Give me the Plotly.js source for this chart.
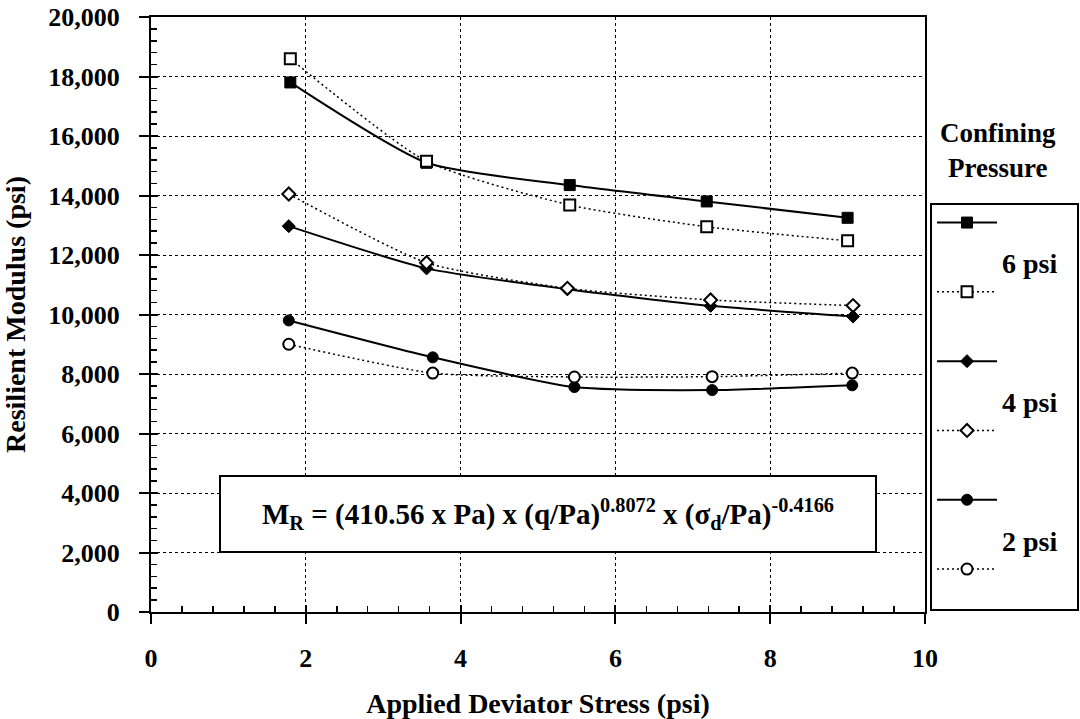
<!DOCTYPE html>
<html>
<head>
<meta charset="utf-8">
<script src="https://cdn.plot.ly/plotly-3.0.1.min.js"></script>
<style>html,body{margin:0;padding:0;background:#fff;}#chart{width:1080px;height:719px;}</style>
</head>
<body>
<div id="chart"></div>
<script>
// Applied deviator stress (psi) for each confining pressure
const stress6 = [1.80, 3.56, 5.41, 7.18, 9.00];
const stress4 = [1.78, 3.56, 5.38, 7.23, 9.07];
const stress2 = [1.78, 3.64, 5.47, 7.25, 9.06];
// Resilient modulus (psi): filled = measured (solid), open = model (dotted)
const mr6Filled = [17800, 15100, 14350, 13800, 13250];
const mr6Open   = [18600, 15150, 13680, 12950, 12480];
const mr4Filled = [12970, 11550, 10850, 10290, 9930];
const mr4Open   = [14050, 11740, 10880, 10490, 10300];
const mr2Filled = [9800, 8560, 7560, 7460, 7620];
const mr2Open   = [9000, 8030, 7900, 7910, 8030];
const pressureLabels = ['6 psi', '4 psi', '2 psi'];

const FONT = 'Liberation Serif, Times New Roman, serif';
const big = s => '<span style="font-size:28px">' + s + '\u00a0\u00a0</span>';

function filledTrace(x, y, sym, size, label) {
  return {
    x: x, y: y, type: 'scatter', mode: 'lines+markers',
    name: '\u00a0<br>\u00a0<br>' + big(label),
    line: {color: '#000', width: 2, shape: 'spline', smoothing: 0.6},
    marker: {symbol: sym, size: size, color: '#000', line: {color: '#000', width: 1}}
  };
}
function openTrace(x, y, sym, size, lines) {
  return {
    x: x, y: y, type: 'scatter', mode: 'lines+markers',
    name: lines,
    line: {color: '#000', width: 1.5, dash: '2px,3px', shape: 'spline', smoothing: 0.6},
    marker: {symbol: sym, size: size, color: '#fff', line: {color: '#000', width: 2}}
  };
}

const blank3 = '\u00a0<br>\u00a0<br>\u00a0';
const blank2 = '\u00a0<br>\u00a0';

const data = [
  // empty trace that only brings the inner-tick overlay axes into being
  {x: [], y: [], type: 'scatter', mode: 'markers', xaxis: 'x2', yaxis: 'y2', showlegend: false, hoverinfo: 'skip'},
  filledTrace(stress6, mr6Filled, 'square', 11, pressureLabels[0]),
  openTrace(stress6, mr6Open, 'square', 11, blank3),
  filledTrace(stress4, mr4Filled, 'diamond', 10, pressureLabels[1]),
  openTrace(stress4, mr4Open, 'diamond', 10, blank3),
  filledTrace(stress2, mr2Filled, 'circle', 11, pressureLabels[2]),
  openTrace(stress2, mr2Open, 'circle', 11, blank2)
];

const axisCommon = {
  showline: true, linecolor: '#000', linewidth: 2, mirror: true,
  ticks: 'outside', ticklen: 10, tickwidth: 2, tickcolor: '#000',
  showgrid: true, gridcolor: '#000', gridwidth: 1, griddash: 'dot',
  zeroline: false,
  tickfont: {family: FONT, size: 26, color: '#000', weight: 'bold'}
};

// overlay axes that only carry the inside tick marks (major + minor)
const innerTicks = {
  showline: false, showgrid: false, zeroline: false, showticklabels: false,
  ticks: 'inside', ticklen: 7, tickwidth: 2, tickcolor: '#000'
};

const layout = {
  width: 1080, height: 719,
  paper_bgcolor: '#fff', plot_bgcolor: '#fff',
  margin: {l: 151, r: 155, t: 17, b: 107, autoexpand: false},
  font: {family: FONT, color: '#000', weight: 'bold'},
  showlegend: true,
  legend: {
    x: 1.0065, xanchor: 'left', y: 0.6874, yanchor: 'top',
    bgcolor: '#fff', bordercolor: '#000', borderwidth: 2,
    font: {family: FONT, size: 17, color: '#000', weight: 'bold'},
    valign: 'top', itemwidth: 60, traceorder: 'normal'
  },
  xaxis: Object.assign({}, axisCommon, {
    range: [0, 10], dtick: 2, tick0: 0,
    ticklabelstandoff: 12,
    title: {text: 'Applied Deviator Stress (psi)', standoff: 22,
            font: {family: FONT, size: 28, color: '#000', weight: 'bold'}}
  }),
  yaxis: Object.assign({}, axisCommon, {
    range: [0, 20000], dtick: 2000, tick0: 0, tickformat: ',d',
    ticklabelstandoff: 14,
    title: {text: 'Resilient Modulus (psi)', standoff: 14,
            font: {family: FONT, size: 28, color: '#000', weight: 'bold'}}
  }),
  xaxis2: Object.assign({}, innerTicks, {
    overlaying: 'x', anchor: 'y2', side: 'bottom', range: [0, 10], dtick: 2, tick0: 0,
    minor: {dtick: 0.4, ticks: 'inside', ticklen: 6, tickwidth: 1.5, tickcolor: '#000', showgrid: false}
  }),
  yaxis2: Object.assign({}, innerTicks, {
    overlaying: 'y', anchor: 'x2', side: 'left', range: [0, 20000], dtick: 2000, tick0: 0,
    minor: {dtick: 400, ticks: 'inside', ticklen: 6, tickwidth: 1.5, tickcolor: '#000', showgrid: false}
  }),
  annotations: [
    {
      xref: 'paper', yref: 'paper', x: 0.5123, y: 0.1647,
      xanchor: 'center', yanchor: 'middle', showarrow: false,
      text: 'M<sub>R</sub> = (410.56 x Pa) x (q/Pa)<sup>0.8072</sup> x (σ<sub>d</sub>/Pa)<sup>-0.4166</sup>',
      font: {family: FONT, size: 29, color: '#000', weight: 'bold'},
      bgcolor: '#fff', bordercolor: '#000', borderwidth: 2, borderpad: 2,
      width: 650, height: 70
    },
    {
      xref: 'paper', yref: 'paper', x: 1.0943, y: 0.775,
      xanchor: 'center', yanchor: 'middle', showarrow: false,
      text: 'Confining<br>Pressure',
      font: {family: FONT, size: 27, color: '#000', weight: 'bold'}
    }
  ]
};

Plotly.newPlot('chart', data, layout, {displayModeBar: false, staticPlot: true});
</script>
</body>
</html>
